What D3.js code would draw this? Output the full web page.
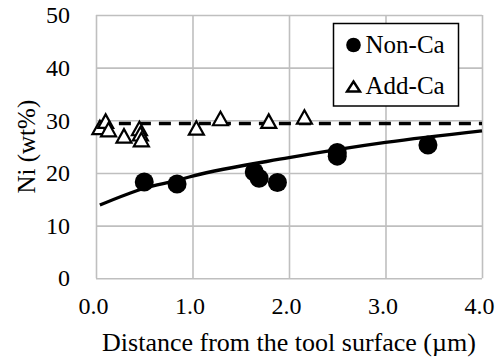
<!DOCTYPE html>
<html>
<head>
<meta charset="utf-8">
<script src="https://cdn.jsdelivr.net/npm/d3@7"></script>
<style>
  body { margin: 0; background: #fff; }
  text { font-family: "Liberation Serif", "Times New Roman", serif; fill: #000; }
</style>
</head>
<body>
<svg id="chart" width="501" height="358"></svg>
<script>
// Non-Ca measurements
const nonCaX = [0.50, 0.84, 1.64, 1.69, 1.88, 2.50, 2.50, 3.44];
const nonCaY = [18.3, 17.9, 20.2, 19.0, 18.2, 23.9, 23.2, 25.3];
// Add-Ca measurements
const addCaX = [0.04, 0.10, 0.13, 0.29, 0.45, 0.46, 0.47, 1.04, 1.29, 1.79, 2.16];
const addCaY = [28.6, 29.8, 28.2, 27.0, 28.4, 27.4, 26.3, 28.5, 30.3, 29.8, 30.6];
// trend lines
const nonCaTrendX = [0.04, 0.5, 0.84, 1.0, 2.0, 3.0, 4.0];
const nonCaTrendY = [13.9, 17.1, 18.6, 19.4, 22.9, 25.8, 28.0];
const addCaTrendX = [0.03, 4.0];
const addCaTrendY = [29.4, 29.4];
// axes
const xTicks = [0, 1, 2, 3, 4];
const yTicks = [0, 10, 20, 30, 40, 50];
const legendLabels = ['Non-Ca', 'Add-Ca'];

const svg = d3.select('#chart');
const margin = { left: 96, right: 19, top: 15, bottom: 79.7 };
const width = 501, height = 358;

const x = d3.scaleLinear().domain([0, 4]).range([margin.left, width - margin.right]);
const y = d3.scaleLinear().domain([0, 50]).range([height - margin.bottom, margin.top]);

// grid
svg.append('g')
    .attr('transform', `translate(0,${y(0)})`)
    .call(d3.axisBottom(x).tickValues(xTicks).tickSize(-(y(0) - y(50))).tickFormat(''))
    .call(g => g.select('.domain').remove())
    .selectAll('line').attr('stroke', '#bfbfbf').attr('stroke-width', 1.6);

svg.append('g')
    .attr('transform', `translate(${x(0)},0)`)
    .call(d3.axisLeft(y).tickValues(yTicks).tickSize(-(x(4) - x(0))).tickFormat(''))
    .call(g => g.select('.domain').remove())
    .selectAll('line').attr('stroke', '#bfbfbf').attr('stroke-width', 1.6);

// tick labels
svg.append('g')
    .attr('transform', `translate(-3,${y(0) + 16})`)
    .call(d3.axisBottom(x).tickValues(xTicks).tickSize(0).tickFormat(d3.format('.1f')))
    .call(g => g.select('.domain').remove())
    .selectAll('text')
    .attr('font-size', 24)
    .style('font-family', '"Liberation Serif", serif')
    .attr('fill', '#000');

svg.append('g')
    .attr('transform', `translate(${x(0) - 23},0)`)
    .call(d3.axisLeft(y).tickValues(yTicks).tickSize(0).tickFormat(d3.format('d')))
    .call(g => g.select('.domain').remove())
    .selectAll('text')
    .attr('font-size', 24)
    .style('font-family', '"Liberation Serif", serif')
    .attr('fill', '#000');

// axis titles
svg.append('text')
    .attr('x', (x(0) + x(4)) / 2)
    .attr('y', 351)
    .attr('text-anchor', 'middle')
    .attr('font-size', 26)
    .text('Distance from the tool surface (µm)');

svg.append('text')
    .attr('transform', `translate(35,${(y(0) + y(50)) / 2}) rotate(-90)`)
    .attr('text-anchor', 'middle')
    .attr('font-size', 25)
    .text('Ni (wt%)');

// trend lines
const line = d3.line().x(d => x(d[0])).y(d => y(d[1]));
svg.append('path')
    .datum(d3.zip(addCaTrendX, addCaTrendY))
    .attr('d', line)
    .attr('fill', 'none')
    .attr('stroke', '#000')
    .attr('stroke-width', 3.3)
    .attr('stroke-dasharray', '12,8');

svg.append('path')
    .datum(d3.zip(nonCaTrendX, nonCaTrendY))
    .attr('d', line.curve(d3.curveMonotoneX))
    .attr('fill', 'none')
    .attr('stroke', '#000')
    .attr('stroke-width', 3.3);

// markers
const tri = 'M0,-7 L7.5,6.5 L-7.5,6.5 Z';
svg.append('g')
    .selectAll('path')
    .data(d3.zip(addCaX, addCaY))
    .enter()
    .append('path')
    .attr('d', tri)
    .attr('transform', d => `translate(${x(d[0])},${y(d[1])})`)
    .attr('fill', '#fff')
    .attr('stroke', '#000')
    .attr('stroke-width', 2.2);

svg.append('g')
    .selectAll('circle')
    .data(d3.zip(nonCaX, nonCaY))
    .enter()
    .append('circle')
    .attr('cx', d => x(d[0]))
    .attr('cy', d => y(d[1]))
    .attr('r', 9.5)
    .attr('fill', '#000');

// legend
const lg = svg.append('g').attr('transform', 'translate(333.5,23.5)');
lg.append('rect')
    .attr('width', 125)
    .attr('height', 82.5)
    .attr('fill', '#fff')
    .attr('stroke', '#000')
    .attr('stroke-width', 1.5);
lg.append('circle').attr('cx', 20).attr('cy', 21.5).attr('r', 7.3).attr('fill', '#000');
lg.append('path')
    .attr('d', 'M0,-5 L6.5,5 L-6.5,5 Z')
    .attr('transform', 'translate(20,63)')
    .attr('fill', '#fff')
    .attr('stroke', '#000')
    .attr('stroke-width', 2.4);
lg.selectAll('text.lbl')
    .data(legendLabels)
    .enter()
    .append('text')
    .attr('class', 'lbl')
    .attr('x', 32)
    .attr('y', (d, i) => 29.5 + i * 41)
    .attr('font-size', 25)
    .text(d => d);
</script>
</body>
</html>
